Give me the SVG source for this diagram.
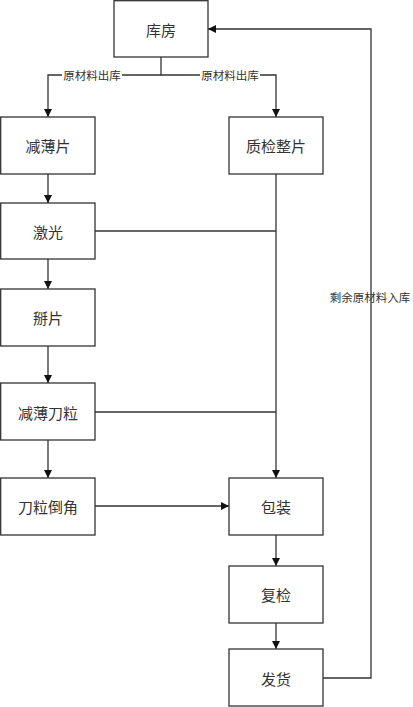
<svg xmlns="http://www.w3.org/2000/svg" width="413" height="707" viewBox="0 0 413 707">
<style>
.box{fill:#fff;stroke:#333;stroke-width:1.3}
.t{font-family:"Noto Sans CJK SC","Liberation Sans",sans-serif;font-size:15px;fill:#333;text-anchor:middle;dominant-baseline:central}
.lbl{font-family:"Noto Sans CJK SC","Liberation Sans",sans-serif;font-size:11.5px;fill:#333;text-anchor:middle;dominant-baseline:central}
.c{fill:none;stroke:#333;stroke-width:1.3}
</style>
<defs>
<marker id="ah" viewBox="0 0 10 10" refX="10" refY="5" markerWidth="8" markerHeight="8" markerUnits="userSpaceOnUse" orient="auto">
<path d="M0,0 L10,5 L0,10 z" fill="#111"/>
</marker>
</defs>
<rect width="413" height="707" fill="#fff"/>
<g id="connectors">
<path class="c" d="M161,57 V75 H48 V117" marker-end="url(#ah)"/>
<path class="c" d="M161,75 H276 V117" marker-end="url(#ah)"/>
<rect x="62" y="68" width="60" height="14" fill="#fff"/>
<text class="lbl" x="92" y="75">原材料出库</text>
<rect x="200" y="68" width="60" height="14" fill="#fff"/>
<text class="lbl" x="230" y="75">原材料出库</text>
<path class="c" d="M48,174 V203" marker-end="url(#ah)"/>
<path class="c" d="M48,259 V289" marker-end="url(#ah)"/>
<path class="c" d="M48,346 V383" marker-end="url(#ah)"/>
<path class="c" d="M48,440 V478" marker-end="url(#ah)"/>
<path class="c" d="M276,174 V478" marker-end="url(#ah)"/>
<path class="c" d="M95,231 H276"/>
<path class="c" d="M95,412 H276"/>
<path class="c" d="M95,506 H229" marker-end="url(#ah)"/>
<path class="c" d="M276,535 V566" marker-end="url(#ah)"/>
<path class="c" d="M276,623 V649" marker-end="url(#ah)"/>
<path class="c" d="M323,678 H371 V29 H208" marker-end="url(#ah)"/>
<text class="lbl" x="370" y="297">剩余原材料入库</text>
</g>
<g id="kufang"><rect class="box" x="114" y="0.7" width="94" height="56.3"/><text class="t" x="161" y="29">库房</text></g>
<g id="jianbaopian"><rect class="box" x="0.7" y="117" width="94.3" height="57"/><text class="t" x="48" y="145">减薄片</text></g>
<g id="zhijian"><rect class="box" x="229" y="117" width="94" height="57"/><text class="t" x="276" y="145">质检整片</text></g>
<g id="jiguang"><rect class="box" x="0.7" y="203" width="94.3" height="56"/><text class="t" x="48" y="231">激光</text></g>
<g id="baipian"><rect class="box" x="0.7" y="289" width="94.3" height="57"/><text class="t" x="48" y="317">掰片</text></g>
<g id="jianbaodaoli"><rect class="box" x="0.7" y="383" width="94.3" height="57"/><text class="t" x="48" y="412">减薄刀粒</text></g>
<g id="daolidaojiao"><rect class="box" x="0.7" y="478" width="94.3" height="57"/><text class="t" x="48" y="506">刀粒倒角</text></g>
<g id="baozhuang"><rect class="box" x="229" y="478" width="94" height="57"/><text class="t" x="276" y="506">包装</text></g>
<g id="fujian"><rect class="box" x="229" y="566" width="94" height="57"/><text class="t" x="276" y="594">复检</text></g>
<g id="fahuo"><rect class="box" x="229" y="649" width="94" height="57"/><text class="t" x="276" y="678">发货</text></g>
</svg>
